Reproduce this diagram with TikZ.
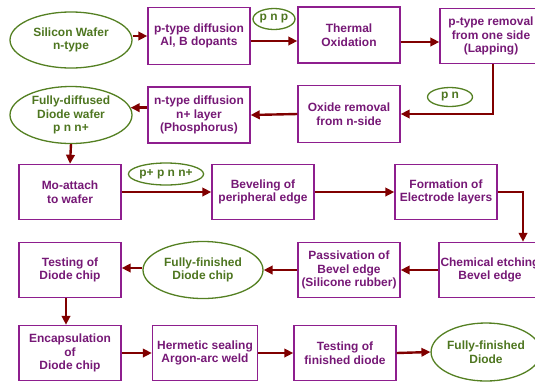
\documentclass[tikz,border=0pt]{standalone}
\usepackage{fontspec}
\setmainfont{Liberation Sans}
\usetikzlibrary{arrows.meta,shapes.geometric}
\definecolor{boxc}{RGB}{142,30,142}
\definecolor{boxt}{RGB}{118,24,118}
\definecolor{ellc}{RGB}{84,128,34}
\definecolor{ellt}{RGB}{78,118,32}
\definecolor{arr}{RGB}{128,0,0}
\begin{document}
\begin{tikzpicture}[x=1bp,y=-1bp,
  txt/.style={font=\bfseries\fontsize{12}{13.5}\selectfont, align=center, inner sep=0pt},
  stepbox/.style={txt, draw=boxc, line width=1.4bp, fill=white, text=boxt, minimum width=102bp, minimum height=56bp},
  oval/.style={txt, ellipse, draw=ellc, line width=1.3bp, fill=white, text=ellt},
  flow/.style={draw=arr, line width=2.4bp, -{Triangle[length=9bp,width=8.5bp]}}]
\useasboundingbox (0,0) rectangle (535,381);
\clip (0,0) rectangle (535,381);
% row 1
\node[oval, minimum width=122bp, minimum height=56bp] (w1) at (71,40) {Silicon Wafer\\n-type};
\node[stepbox, minimum height=57bp] (b1) at (199,36) {p-type diffusion\\Al, B dopants};
\node[oval, minimum width=42bp, minimum height=21bp] (l1) at (274,19) {p n p};
\node[stepbox] (b2) at (349,35) {Thermal\\Oxidation};
\node[stepbox, minimum height=55bp] (b3) at (491,36) {p-type removal\\from one side\\(Lapping)};
% row 2
\node[oval, minimum width=45bp, minimum height=19bp] (l2) at (450,97) {p n};
\node[stepbox, minimum height=57bp] (b4) at (349,114) {Oxide removal\\from n-side};
\node[stepbox] (b5) at (199,115) {n-type diffusion\\n+ layer\\(Phosphorus)};
\node[oval, minimum width=122bp, minimum height=57bp] (w2) at (71,115) {Fully-diffused\\Diode wafer\\p n n+};
% row 3
\node[stepbox, minimum height=55bp] (b6) at (70,192) {Mo-attach\\to wafer};
\node[oval, minimum width=74bp, minimum height=22bp] (l3) at (166,174) {p+ p n n+};
\node[stepbox, minimum height=55bp] (b7) at (263,192) {Beveling of\\peripheral edge};
\node[stepbox, minimum height=55bp] (b8) at (446,192) {Formation of\\Electrode layers};
% row 4
\node[stepbox, minimum height=55bp] (b9) at (490,270) {Chemical etching\\Bevel edge};
\node[stepbox, minimum height=55bp] (b10) at (349,270) {Passivation of\\Bevel edge\\(Silicone rubber)};
\node[oval, minimum width=120bp, minimum height=57bp] (w3) at (203,270) {Fully-finished\\Diode chip};
\node[stepbox, minimum height=55bp] (b11) at (70,270) {Testing of\\Diode chip};
% row 5
\node[stepbox, minimum height=55bp] (b12) at (70,353) {Encapsulation\\of\\Diode chip};
\node[stepbox, minimum width=105bp, minimum height=55bp] (b13) at (205,353) {Hermetic sealing\\Argon-arc weld};
\node[stepbox, minimum height=55bp] (b14) at (345,353) {Testing of\\finished diode};
\node[oval, minimum width=108bp, minimum height=58bp] (w4) at (486,352) {Fully-finished\\Diode};
% connectors
\draw[flow] (w1.east |- b1.west) -- (b1.west);
\draw[flow] ([yshift=-5bp]b1.east) -- ([yshift=-5bp]b1.east -| b2.west);
\draw[flow] ([yshift=-7bp]b2.east) -- ([yshift=-7bp]b2.east -| b3.west);
\draw[flow] ([xshift=2bp]b3.south) |- (b4.east);
\draw[flow] (b4.west) -- (b5.east);
\draw[flow] (b5.west |- w2.7) -- (w2.7);
\draw[flow] (w2.south) -- (b6.north);
\draw[flow] (b6.east) -- (b7.west);
\draw[flow] (b7.east) -- (b8.west);
\draw[flow] (b8.east) -| ([xshift=33bp]b9.north);
\draw[flow] (b9.west) -- (b10.east);
\draw[flow] (b10.west) -- (w3.east);
\draw[flow] (w3.west |- 0,268) -- (b11.east |- 0,268);
\draw[flow] ([xshift=-4bp]b11.south) -- ([xshift=-4bp]b12.north);
\draw[flow] (b12.east) -- (b13.west);
\draw[flow] (b13.east) -- (b14.west);
\draw[flow] (b14.east) -- (w4.west);
\end{tikzpicture}
\end{document}
